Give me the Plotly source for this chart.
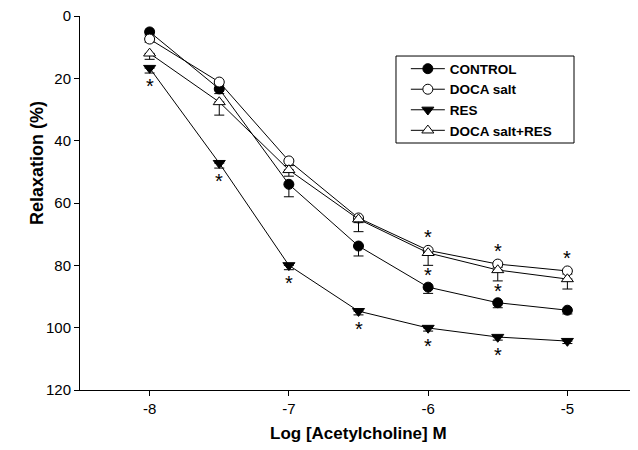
import plotly.graph_objects as go

# ---- data ----
log_ach = [-8, -7.5, -7, -6.5, -6, -5.5, -5]

control = [5.1, 23.4, 54.0, 73.8, 87.0, 92.0, 94.4]
control_err = [1.0, 1.5, 4.0, 3.2, 2.0, 1.6, 1.2]

doca = [7.4, 21.2, 46.5, 64.8, 75.2, 79.6, 81.8]
doca_err = [1.0, 1.0, 1.5, 1.5, 1.5, 1.0, 1.0]

res = [16.7, 47.2, 80.0, 94.7, 100.1, 103.0, 104.3]
res_err = [1.6, 1.6, 1.4, 1.2, 1.0, 1.0, 0.8]

doca_res = [12.0, 27.6, 49.4, 65.2, 76.0, 81.5, 84.4]
doca_res_err = [1.9, 4.2, 2.0, 4.0, 4.0, 3.5, 3.2]

series_names = ["CONTROL", "DOCA salt", "RES", "DOCA salt+RES"]

# significance asterisks: (series, x value, position relative to marker)
sig_marks = [
    ("RES", -8, "below"), ("RES", -7.5, "below"), ("RES", -7, "below"),
    ("RES", -6.5, "below"), ("RES", -6, "below"), ("RES", -5.5, "below"),
    ("DOCA salt", -6, "above"), ("DOCA salt", -5.5, "above"), ("DOCA salt", -5, "above"),
    ("DOCA salt+RES", -6, "below_err"), ("DOCA salt+RES", -5.5, "below_err"),
]

x_ticks = [-8, -7, -6, -5]
y_ticks = [0, 20, 40, 60, 80, 100, 120]

FONT = "Liberation Sans, Arial, Helvetica, sans-serif"

styles = {
    "CONTROL": dict(symbol="circle", color="black"),
    "DOCA salt": dict(symbol="circle", color="white"),
    "RES": dict(symbol="triangle-down", color="black"),
    "DOCA salt+RES": dict(symbol="triangle-up", color="white"),
}
sizes = {"CONTROL": 10, "DOCA salt": 10, "RES": 10.5, "DOCA salt+RES": 10.5}
data = {
    "CONTROL": (control, control_err),
    "DOCA salt": (doca, doca_err),
    "RES": (res, res_err),
    "DOCA salt+RES": (doca_res, doca_res_err),
}

fig = go.Figure()
for name in series_names:
    yv, ev = data[name]
    st = styles[name]
    fig.add_trace(go.Scatter(
        x=log_ach, y=yv, name=name, mode="lines+markers",
        line=dict(color="black", width=1),
        marker=dict(symbol=st["symbol"], size=sizes[name], color=st["color"],
                    line=dict(color="black", width=1)),
        error_y=dict(type="data", symmetric=False, array=ev,
                     arrayminus=[0] * len(ev), color="black",
                     thickness=1, width=5),
    ))

annotations = []
for name, xv, pos in sig_marks:
    yv, ev = data[name]
    i = log_ach.index(xv)
    if pos == "below":
        shift = -18
        yy = yv[i]
    elif pos == "above":
        shift = 13
        yy = yv[i]
    else:
        shift = -10
        yy = yv[i] + ev[i]
    annotations.append(dict(
        x=xv, y=yy, xref="x", yref="y", text="*", showarrow=False,
        yanchor="middle", xanchor="center", yshift=shift,
        font=dict(family=FONT, size=20, color="black"),
    ))

# axis titles
annotations.append(dict(
    x=0.5, y=-0.115, xref="paper", yref="paper", text="Log [Acetylcholine] M",
    showarrow=False, xanchor="center", yanchor="middle",
    font=dict(family=FONT, size=17, color="black", weight="bold"),
))
annotations.append(dict(
    x=-0.077, y=0.607, xref="paper", yref="paper", text="Relaxation (%)",
    showarrow=False, xanchor="center", yanchor="middle", textangle=-90,
    font=dict(family=FONT, size=18, color="black", weight="bold"),
))

# legend frame drawn as a shape so its width can match the reference
legend_box = dict(type="rect", xref="paper", yref="paper",
                  x0=0.5673, x1=0.8869, y0=0.6604, y1=0.893,
                  line=dict(color="black", width=1), fillcolor="white",
                  layer="above")

# the page body adds an 8 px offset; size the figure so the plot area
# lands at the same pixels as the reference
fig.update_layout(
    width=630, height=442,
    margin=dict(l=72, r=1, t=8, b=60, autoexpand=False),
    paper_bgcolor="white", plot_bgcolor="white",
    font=dict(family=FONT, color="black", size=15),
    showlegend=True,
    legend=dict(
        x=0.585, y=0.9, xanchor="left", yanchor="top",
        borderwidth=0, bgcolor="rgba(0,0,0,0)",
        font=dict(family=FONT, size=13.5, color="black", weight="bold"),
        tracegroupgap=0, itemwidth=34,
    ),
    shapes=[legend_box],
    annotations=annotations,
)
fig.update_xaxes(
    range=[-8.5, -4.5], tickvals=x_ticks, ticktext=[str(v) for v in x_ticks],
    showline=True, linecolor="black", linewidth=1, mirror=False,
    ticks="outside", ticklen=5, tickcolor="black", tickwidth=1,
    showgrid=False, zeroline=False, automargin=False,
    ticklabeloverflow="allow",
    tickfont=dict(family=FONT, size=15, color="black"),
)
fig.update_yaxes(
    range=[120, 0], tickvals=y_ticks,
    showline=True, linecolor="black", linewidth=1, mirror=False,
    ticks="outside", ticklen=5, tickcolor="black", tickwidth=1,
    showgrid=False, zeroline=False, automargin=False,
    ticklabeloverflow="allow",
    tickfont=dict(family=FONT, size=15, color="black"),
)

fig.write_html("out.html")
